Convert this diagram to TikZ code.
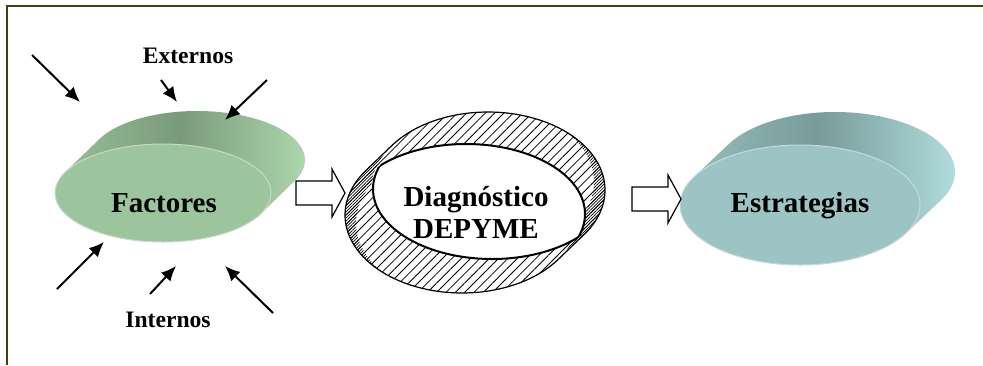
\documentclass[tikz,border=0pt]{standalone}
\usepackage{fontspec}
\setmainfont{Liberation Serif}
\usetikzlibrary{calc, patterns.meta, arrows.meta}
\definecolor{framecol}{RGB}{64,64,16}
\definecolor{facfront}{RGB}{157,197,157}
\definecolor{facdark}{RGB}{122,154,122}
\definecolor{faclight}{RGB}{178,222,178}
\definecolor{estfront}{RGB}{156,196,196}
\definecolor{estdark}{RGB}{120,154,154}
\definecolor{estlight}{RGB}{182,228,228}

\begin{document}
\begin{tikzpicture}[x=0.5pt, y=-0.5pt, >={Latex[length=7.5pt,width=6.5pt]},
    frame/.style={draw=framecol, line width=1pt},
    inarrow/.style={->, line width=1pt},
    blockarrow/.style={draw, fill=white, line width=0.6pt, line join=miter},
    sidetext/.style={font=\bfseries\fontsize{11.8}{13}\selectfont, anchor=base, inner sep=0pt},
    disctext/.style={font=\bfseries\fontsize{14.5}{16}\selectfont, inner sep=0pt, align=center},
    sparse/.style={pattern={Lines[angle=45, distance=3.3pt, line width=0.4pt]}},
    dense/.style={pattern={Lines[angle=45, distance=1.1pt, line width=0.35pt]}}]
  \useasboundingbox (0,0) rectangle (983,365);
  \draw[frame] (7,365) -- (7,6) -- (983,6);

  % Factores disc
  \coordinate (ff) at (163,193);
  \coordinate (fb) at (197,160);
  \shade[left color=facfront, right color=faclight, middle color=facdark]
    ($(fb)+(25.05:108 and 49)$) arc[start angle=25.05, end angle=-154.95, x radius=108, y radius=49]
    -- ($(ff)+(205.05:108 and 49)$) arc[start angle=205.05, end angle=25.05, x radius=108, y radius=49] -- cycle;
  \filldraw[fill=facfront, draw=facfront!60!white, line width=0.5pt] (ff) ellipse[x radius=108, y radius=49];
  \node[disctext, anchor=base] (fac) at (164,212) {Factores};

  % external and internal factors
  \foreach \i/\tx/\ty/\hx/\hy in {1/32/55/80/102, 2/161/80/177/102, 3/267/80/225/120,
      4/57/289/104/242, 5/150/294/176/266, 6/273/313/225/266} {
    \coordinate (t\i) at (\tx,\ty);
    \coordinate (h\i) at (\hx,\hy);
    \draw[inarrow] (t\i) -- (h\i);
  }
  \node[sidetext] (ext) at (188,63) {Externos};
  \node[sidetext] (int) at (168,327) {Internos};

  % Diagnostico ring
  \coordinate (rf) at (462,215);
  \coordinate (rb) at (488,190);
  \coordinate (hf) at (466,214);
  \coordinate (hb) at (492,189);
  \path[save path=\ringsil]
    ($(rb)+(34.7:117 and 78)$) arc[start angle=34.7, end angle=-145.3, x radius=117, y radius=78]
    -- ($(rf)+(214.7:117 and 78)$) arc[start angle=214.7, end angle=34.7, x radius=117, y radius=78] -- cycle;
  \path[use path=\ringsil, fill=white];
  \path[use path=\ringsil, sparse];
  \begin{scope}
    \path[use path=\ringsil, clip];
    \begin{scope}[even odd rule]
      \clip (300,80) rectangle (650,320) ($(rf)+(11,8)$) ellipse[x radius=117, y radius=78];
      \clip (300,80) rectangle (650,320) (rb) ellipse[x radius=117, y radius=78];
      \fill[dense] (300,80) rectangle (650,320);
    \end{scope}
  \end{scope}
  \begin{scope}
    \path[use path=\ringsil, clip];
    \begin{scope}[even odd rule]
      \clip (300,80) rectangle (650,320) ($(rb)+(-11,-8)$) ellipse[x radius=117, y radius=78];
      \clip (300,80) rectangle (650,320) (rf) ellipse[x radius=117, y radius=78];
      \fill[dense] (300,80) rectangle (650,320);
    \end{scope}
  \end{scope}
  % see-through hole
  \begin{scope}
    \path[use path=\ringsil, clip];
    \clip (hf) ellipse[x radius=119, y radius=70];
    \fill[white] (hb) ellipse[x radius=119, y radius=70];
    \draw[line width=1pt] (hb) ellipse[x radius=119, y radius=70];
  \end{scope}
  \begin{scope}
    \path[use path=\ringsil, clip];
    \clip (hb) ellipse[x radius=119, y radius=70];
    \draw[line width=1pt] (hf) ellipse[x radius=119, y radius=70];
  \end{scope}
  \path[use path=\ringsil, draw, line width=0.6pt];
  \node[disctext] (diag) at (476,212) {Diagnóstico\\DEPYME};

  % Estrategias disc
  \coordinate (ef) at (800,205);
  \coordinate (eb) at (835,172);
  \shade[left color=estfront, right color=estlight, middle color=estdark]
    ($(eb)+(27.94:120 and 60)$) arc[start angle=27.94, end angle=-152.06, x radius=120, y radius=60]
    -- ($(ef)+(207.94:120 and 60)$) arc[start angle=207.94, end angle=27.94, x radius=120, y radius=60] -- cycle;
  \filldraw[fill=estfront, draw=estfront!60!white, line width=0.5pt] (ef) ellipse[x radius=120, y radius=60];
  \node[disctext, anchor=base] (estr) at (800,212) {Estrategias};

  % block arrows
  \coordinate (b1) at (296,193);
  \coordinate (b2) at (632,199);
  \foreach \b in {b1,b2}
    \draw[blockarrow] (\b) ++(0,-12) -- ++(36,0) -- ++(0,-12) -- ++(13,24) -- ++(-13,24) -- ++(0,-12) -- ++(-36,0) -- cycle;
\end{tikzpicture}
\end{document}
